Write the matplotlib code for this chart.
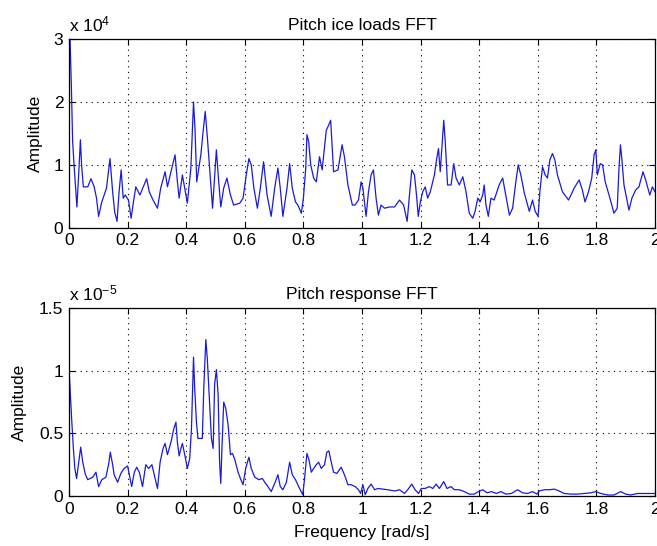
import matplotlib
matplotlib.use("Agg")
import matplotlib.pyplot as plt

plt.rcParams['font.family'] = ['Liberation Sans', 'DejaVu Sans']
plt.rcParams['mathtext.default'] = 'regular'

# ---- data ----
# Top: pitch ice loads FFT, amplitude in units of 1e4
freq_top = [0.0, 0.008, 0.0125, 0.018, 0.027, 0.033, 0.039, 0.043, 0.049, 0.064,
            0.075, 0.086, 0.094, 0.101, 0.112, 0.128, 0.14, 0.149, 0.156, 0.164,
            0.171, 0.178, 0.185, 0.192, 0.203, 0.212, 0.22, 0.228, 0.242, 0.265,
            0.274, 0.287, 0.302, 0.313, 0.328, 0.336, 0.351, 0.362, 0.37, 0.376,
            0.387, 0.395, 0.404, 0.416, 0.425, 0.43, 0.436, 0.45, 0.457, 0.465,
            0.472, 0.48, 0.49, 0.503, 0.51, 0.518, 0.528, 0.539, 0.551, 0.562,
            0.583, 0.594, 0.605, 0.614, 0.622, 0.631, 0.643, 0.653, 0.664, 0.676,
            0.69, 0.702, 0.713, 0.721, 0.73, 0.744, 0.753, 0.762, 0.773, 0.781,
            0.793, 0.8, 0.808, 0.812, 0.818, 0.825, 0.835, 0.844, 0.855, 0.864,
            0.878, 0.886, 0.893, 0.903, 0.918, 0.932, 0.94, 0.952, 0.967, 0.976,
            0.988, 0.997, 1.003, 1.014, 1.022, 1.031, 1.039, 1.048, 1.056, 1.065,
            1.077, 1.094, 1.111, 1.128, 1.142, 1.154, 1.162, 1.17, 1.179, 1.186,
            1.192, 1.199, 1.207, 1.216, 1.224, 1.233, 1.247, 1.255, 1.261, 1.267,
            1.279, 1.284, 1.292, 1.304, 1.313, 1.321, 1.332, 1.344, 1.355, 1.366,
            1.378, 1.386, 1.395, 1.403, 1.412, 1.417, 1.423, 1.431, 1.44, 1.451,
            1.468, 1.48, 1.503, 1.514, 1.525, 1.533, 1.542, 1.554, 1.571, 1.582,
            1.591, 1.601, 1.607, 1.616, 1.625, 1.633, 1.641, 1.65, 1.658, 1.667,
            1.684, 1.705, 1.724, 1.741, 1.752, 1.761, 1.773, 1.784, 1.792, 1.798,
            1.803, 1.813, 1.821, 1.83, 1.843, 1.86, 1.871, 1.877, 1.882, 1.887,
            1.894, 1.903, 1.911, 1.921, 1.934, 1.945, 1.959, 1.968, 1.982, 1.991,
            2.0]
amp_top = [3.6, 2.27, 1.37, 0.95, 0.33, 0.84, 1.40, 1.0, 0.65, 0.65,
           0.78, 0.65, 0.47, 0.18, 0.41, 0.63, 1.10, 0.57, 0.25, 0.10,
           0.57, 0.92, 0.47, 0.52, 0.44, 0.15, 0.41, 0.65, 0.52, 0.78,
           0.57, 0.44, 0.31, 0.63, 0.89, 0.65, 0.95, 1.16, 0.73, 0.47,
           0.84, 0.63, 0.39, 0.95, 2.0, 1.58, 0.73, 1.16, 1.5, 1.85,
           1.45, 0.95, 0.31, 1.24, 0.79, 0.33, 0.63, 0.79, 0.52, 0.36,
           0.39, 0.47, 0.84, 1.10, 1.0, 0.63, 0.31, 0.63, 1.05, 0.52,
           0.18, 0.63, 0.95, 0.63, 0.18, 0.63, 1.02, 0.63, 0.41, 0.36,
           0.23, 0.47, 0.95, 1.48, 1.37, 1.0, 0.79, 0.73, 1.13, 0.92,
           1.55, 1.63, 1.71, 0.89, 0.92, 1.32, 1.13, 0.68, 0.36, 0.36,
           0.44, 0.73, 0.63, 0.18, 0.57, 0.84, 0.92, 0.47, 0.20, 0.36,
           0.31, 0.33, 0.33, 0.44, 0.36, 0.10, 0.52, 0.92, 0.84, 0.52,
           0.18, 0.41, 0.57, 0.65, 0.47, 0.57, 0.84, 1.10, 1.26, 0.89,
           1.71, 1.37, 0.68, 0.68, 1.02, 0.79, 0.68, 0.81, 0.57, 0.23,
           0.15, 0.26, 0.47, 0.41, 0.52, 0.68, 0.36, 0.18, 0.47, 0.44,
           0.68, 0.79, 0.20, 0.31, 0.73, 1.0, 0.84, 0.55, 0.26, 0.44,
           0.26, 0.18, 0.57, 0.97, 0.84, 0.79, 1.08, 1.18, 1.08, 0.84,
           0.57, 0.44, 0.63, 0.76, 0.60, 0.41, 0.57, 0.79, 1.16, 1.24,
           0.84, 1.02, 1.0, 0.73, 0.52, 0.23, 0.31, 0.95, 1.32, 1.08,
           0.68, 0.47, 0.28, 0.47, 0.60, 0.65, 0.89, 0.76, 0.52, 0.65,
           0.57]

# Bottom: pitch response FFT, amplitude in units of 1e-5
freq_bot = [0.0, 0.009, 0.015, 0.02, 0.026, 0.032, 0.04, 0.047, 0.055, 0.064,
            0.081, 0.092, 0.101, 0.112, 0.126, 0.135, 0.141, 0.149, 0.154, 0.166,
            0.177, 0.188, 0.2, 0.206, 0.214, 0.223, 0.231, 0.24, 0.251, 0.262,
            0.272, 0.283, 0.302, 0.311, 0.321, 0.328, 0.336, 0.348, 0.357, 0.365,
            0.37, 0.376, 0.382, 0.387, 0.395, 0.404, 0.412, 0.418, 0.425, 0.429,
            0.435, 0.44, 0.455, 0.46, 0.467, 0.472, 0.48, 0.486, 0.492, 0.497,
            0.503, 0.509, 0.514, 0.518, 0.522, 0.528, 0.535, 0.543, 0.551, 0.558,
            0.566, 0.577, 0.585, 0.594, 0.603, 0.614, 0.622, 0.634, 0.648, 0.66,
            0.668, 0.679, 0.69, 0.702, 0.713, 0.721, 0.73, 0.742, 0.753, 0.762,
            0.773, 0.781, 0.789, 0.798, 0.804, 0.812, 0.819, 0.827, 0.835, 0.844,
            0.852, 0.861, 0.872, 0.88, 0.887, 0.895, 0.903, 0.914, 0.929, 0.94,
            0.952, 0.963, 0.977, 0.988, 0.995, 1.003, 1.011, 1.02, 1.031, 1.043,
            1.054, 1.07, 1.088, 1.111, 1.128, 1.145, 1.156, 1.17, 1.181, 1.193,
            1.202, 1.215, 1.23, 1.242, 1.253, 1.264, 1.279, 1.29, 1.304, 1.315,
            1.332, 1.349, 1.366, 1.383, 1.397, 1.412, 1.427, 1.442, 1.458, 1.474,
            1.491, 1.51, 1.531, 1.548, 1.565, 1.582, 1.597, 1.605, 1.622, 1.64,
            1.656, 1.673, 1.69, 1.713, 1.735, 1.758, 1.781, 1.798, 1.815, 1.838,
            1.86, 1.883, 1.9, 1.917, 1.94, 1.97, 2.0]
amp_bot = [1.02, 0.62, 0.38, 0.22, 0.14, 0.25, 0.39, 0.27, 0.18, 0.13,
           0.15, 0.19, 0.075, 0.13, 0.15, 0.25, 0.35, 0.25, 0.17, 0.11,
           0.18, 0.22, 0.24, 0.17, 0.075, 0.19, 0.23, 0.19, 0.075, 0.25,
           0.22, 0.25, 0.06, 0.27, 0.38, 0.42, 0.33, 0.43, 0.53, 0.59,
           0.43, 0.32, 0.38, 0.42, 0.33, 0.22, 0.30, 0.54, 1.11, 0.86,
           0.59, 0.46, 0.46, 0.86, 1.25, 1.10, 0.74, 0.46, 0.38, 0.89,
           1.01, 0.81, 0.27, 0.10, 0.38, 0.75, 0.70, 0.57, 0.33, 0.34,
           0.29, 0.19, 0.14, 0.09, 0.22, 0.31, 0.22, 0.15, 0.13, 0.14,
           0.11, 0.075, 0.035, 0.10, 0.17, 0.075, 0.05, 0.11, 0.27, 0.17,
           0.13, 0.09, 0.05, 0.01, 0.14, 0.34, 0.29, 0.19, 0.22, 0.25,
           0.27, 0.22, 0.25, 0.35, 0.36, 0.27, 0.19, 0.18, 0.23, 0.17,
           0.09, 0.09, 0.075, 0.05, 0.02, 0.09, 0.01, 0.06, 0.095, 0.05,
           0.06, 0.055, 0.05, 0.04, 0.05, 0.02, 0.05, 0.095, 0.05, 0.02,
           0.06, 0.06, 0.075, 0.06, 0.095, 0.06, 0.115, 0.06, 0.075, 0.05,
           0.05, 0.035, 0.015, 0.015, 0.035, 0.05, 0.025, 0.035, 0.02, 0.035,
           0.015, 0.02, 0.05, 0.025, 0.02, 0.035, 0.015, 0.04, 0.05, 0.05,
           0.055, 0.04, 0.02, 0.015, 0.015, 0.02, 0.025, 0.035, 0.02, 0.008,
           0.008, 0.035, 0.015, 0.008, 0.02, 0.02, 0.02]

xticks = [0, 0.2, 0.4, 0.6, 0.8, 1.0, 1.2, 1.4, 1.6, 1.8, 2.0]
xtick_labels = ['0', '0.2', '0.4', '0.6', '0.8', '1', '1.2', '1.4', '1.6', '1.8', '2']
yticks_top = [0, 1, 2, 3]
ytick_labels_top = ['0', '1', '2', '3']
yticks_bot = [0, 0.5, 1.0, 1.5]
ytick_labels_bot = ['0', '0.5', '1', '1.5']

FS = 12.5
LINE_COLOR = (0.1, 0.1, 0.85)

fig = plt.figure(figsize=(6.57, 5.46), dpi=100)
fig.patch.set_facecolor('white')

ax1 = fig.add_axes([0.1050, 0.5830, 0.8920, 0.3451])
ax2 = fig.add_axes([0.1050, 0.0916, 0.8920, 0.3438])


def style(ax, yt, ytl, ymax):
    ax.set_xlim(0, 2)
    ax.set_ylim(0, ymax)
    ax.set_xticks(xticks)
    ax.set_xticklabels(xtick_labels)
    ax.set_yticks(yt)
    ax.set_yticklabels(ytl)
    ax.tick_params(direction='in', length=4, width=0.8, top=True, right=True,
                   labelsize=FS, pad=4, colors='black')
    ax.grid(True, color='black', linestyle=(0, (1, 4)), linewidth=0.8)
    for s in ax.spines.values():
        s.set_linewidth(0.9)
        s.set_color('black')
    ax.set_axisbelow(True)


ax1.plot(freq_top, amp_top, color=LINE_COLOR, linewidth=0.9, clip_on=True)
style(ax1, yticks_top, ytick_labels_top, 3)
ax1.set_title('Pitch ice loads FFT', fontsize=FS, pad=7)
ax1.set_ylabel('Amplitude', fontsize=FS)
ax1.yaxis.set_label_coords(-0.044, 0.5)
ax1.text(0.0, 1.025, r'x 10$^{4}$', transform=ax1.transAxes, fontsize=FS,
         ha='left', va='bottom')

ax2.plot(freq_bot, amp_bot, color=LINE_COLOR, linewidth=0.9, clip_on=True)
style(ax2, yticks_bot, ytick_labels_bot, 1.5)
ax2.set_title('Pitch response FFT', fontsize=FS, pad=7)
ax2.set_ylabel('Amplitude', fontsize=FS)
ax2.yaxis.set_label_coords(-0.072, 0.5)
ax2.set_xlabel('Frequency [rad/s]', fontsize=FS)
ax2.xaxis.set_label_coords(0.5, -0.155)
ax2.text(0.0, 1.025, r'x 10$^{-5}$', transform=ax2.transAxes, fontsize=FS,
         ha='left', va='bottom')

fig.savefig('out.png', dpi=100, facecolor='white')
